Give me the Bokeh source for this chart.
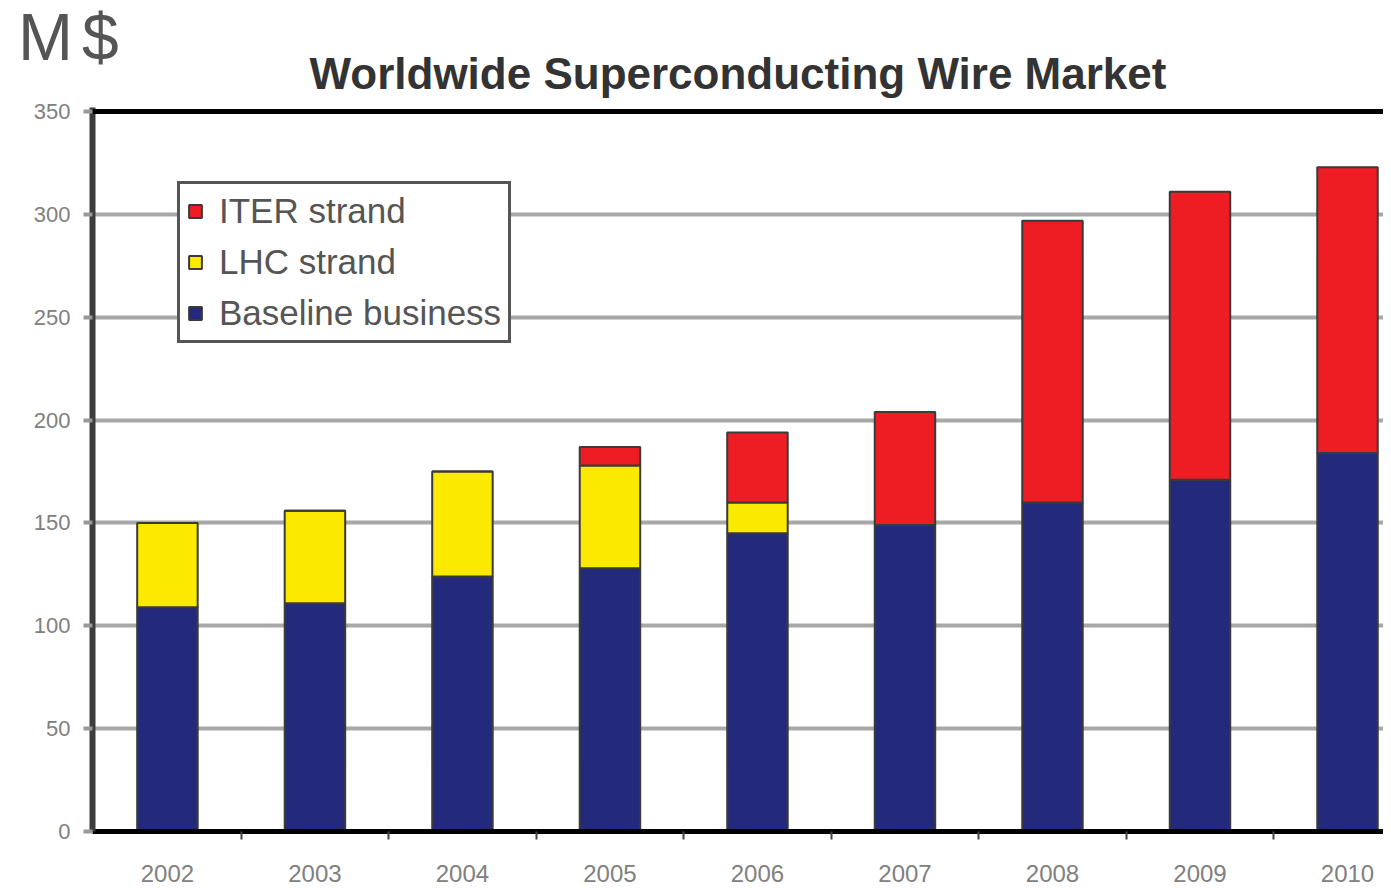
from bokeh.plotting import figure
from bokeh.models import (Range1d, FixedTicker, Span, Legend, LegendItem,
                          ColumnDataSource, Div)
from bokeh.layouts import column
from bokeh.embed import file_html
from bokeh.resources import INLINE

# ---- data ----
years = [2002, 2003, 2004, 2005, 2006, 2007, 2008, 2009, 2010]
year_labels = ["2002", "2003", "2004", "2005", "2006", "2007", "2008", "2009", "2010"]
baseline = [109, 111, 124, 128, 145, 149, 160, 171, 184]
lhc = [41, 45, 51, 50, 15, 0, 0, 0, 0]
iter_strand = [0, 0, 0, 9, 34, 55, 137, 140, 139]
series_keys = ["baseline", "lhc", "iter"]
series_names = ["Baseline business", "LHC strand", "ITER strand"]
colors = ["#232a7c", "#fbe900", "#ee1d23"]
y_ticks = [0, 50, 100, 150, 200, 250, 300, 350]
unit_text = "M$"
title_text = "Worldwide Superconducting Wire Market"

src = ColumnDataSource(dict(year=years, baseline=baseline, lhc=lhc, iter=iter_strand))

p = figure(width=1383, height=885, output_backend="svg", toolbar_location=None,
           x_range=Range1d(2001.492, 2010.244), y_range=Range1d(0, 352),
           min_border_left=92, min_border_right=0, min_border_top=107,
           min_border_bottom=54)
p.outline_line_color = None
p.background_fill_color = "white"
p.border_fill_color = "white"

rs = p.vbar_stack(series_keys, x="year", width=0.41, fill_color=colors,
                  line_color="#3a3a3a", line_width=2, source=src)

# frame top line
p.add_layout(Span(location=350, dimension="width", line_color="black", line_width=5))

# grid
p.xgrid.visible = False
p.ygrid.grid_line_color = "#a8a8a8"
p.ygrid.grid_line_width = 4

# y axis
p.yaxis.ticker = FixedTicker(ticks=y_ticks)
p.yaxis.axis_line_width = 6
p.yaxis.axis_line_color = "#3c3c3c"
p.yaxis.major_tick_out = 9
p.yaxis.major_tick_in = 0
p.yaxis.major_tick_line_color = "#999999"
p.yaxis.major_tick_line_width = 4
p.yaxis.minor_tick_line_color = None
p.yaxis.major_label_text_font_size = "22px"
p.yaxis.major_label_text_color = "#808080"
p.yaxis.major_label_text_font = "Liberation Sans"
p.yaxis.major_label_standoff = 13

# x axis
p.xaxis.ticker = FixedTicker(ticks=years, minor_ticks=[y + 0.5 for y in years])
p.xaxis.major_label_overrides = {y: l for y, l in zip(years, year_labels)}
p.xaxis.axis_line_color = "black"
p.xaxis.axis_line_width = 5
p.xaxis.major_tick_line_color = None
p.xaxis.major_tick_out = 0
p.xaxis.major_tick_in = 0
p.xaxis.minor_tick_out = 8
p.xaxis.minor_tick_in = 0
p.xaxis.minor_tick_line_color = "#444444"
p.xaxis.minor_tick_line_width = 2
p.xaxis.major_label_text_font_size = "24px"
p.xaxis.major_label_text_color = "#808080"
p.xaxis.major_label_text_font = "Liberation Sans"
p.xaxis.major_label_standoff = 25

# title
p.title.text = title_text
p.title.align = "center"
p.title.text_font = "Liberation Sans"
p.title.text_font_size = "44px"
p.title.text_font_style = "bold"
p.title.text_color = "#333333"
p.title.offset = -8
p.title.standoff = 20

# legend
items = [LegendItem(label=series_names[i], renderers=[rs[i]]) for i in (2, 1, 0)]
legend = Legend(items=items, location=(85, 488))
legend.border_line_color = "#555555"
legend.border_line_alpha = 1
legend.border_line_width = 3
legend.label_text_font = "Liberation Sans"
legend.label_text_font_size = "35px"
legend.label_text_color = "#555555"
legend.glyph_width = 16
legend.glyph_height = 16
legend.label_height = 37
legend.spacing = 11
legend.padding = 7
legend.margin = 0
legend.label_standoff = 16
legend.background_fill_alpha = 1
p.add_layout(legend)

# "M$" unit label, overlaid at the top-left corner of the chart
unit = Div(text=('<span style="font-family:\'Liberation Sans\';font-size:66px;'
                 'color:#555555;line-height:1;white-space:nowrap;letter-spacing:9px">'
                 + unit_text + '</span>'),
           styles={"position": "absolute", "left": "13px", "top": "-1px", "z-index": "10"})

layout = column(p, unit)
open("out.html", "w").write(file_html(layout, INLINE))
